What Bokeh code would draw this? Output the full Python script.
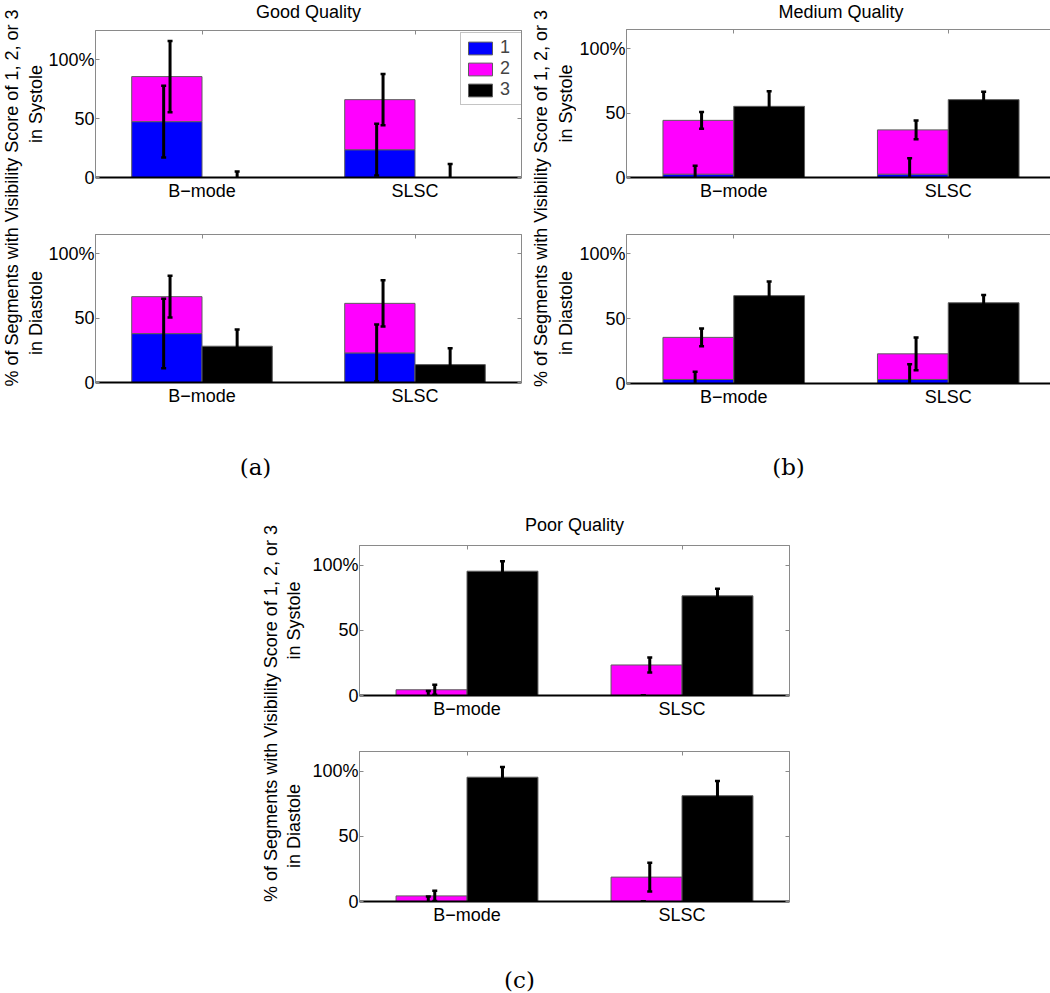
import numpy as np
from bokeh.plotting import figure
from bokeh.models import (ColumnDataSource, FixedTicker, LinearAxis, Range1d,
                          Legend, LegendItem, Spacer, CustomJSTickFormatter)
from bokeh.layouts import row, column
from bokeh.embed import file_html
from bokeh.resources import INLINE
from bokeh.core.properties import value

# ---------------- data (percent of segments) ----------------
categories = ["B−mode", "SLSC"]
score_labels = ["1", "2", "3"]

# Good quality
good_sys_s1 = [47.5, 23.6]
good_sys_s1_err = [30.5, 22.0]
good_sys_s2 = [38.3, 42.6]
good_sys_s2_err = [30.3, 21.8]
good_sys_s3 = [0.0, 0.0]
good_sys_s3_err = [5.0, 11.5]

good_dia_s1 = [38.0, 23.0]
good_dia_s1_err = [27.0, 22.0]
good_dia_s2 = [28.7, 38.5]
good_dia_s2_err = [16.2, 18.0]
good_dia_s3 = [28.2, 13.9]
good_dia_s3_err = [12.9, 12.8]

# Medium quality
med_sys_s1 = [2.6, 2.6]
med_sys_s1_err = [6.5, 12.3]
med_sys_s2 = [41.8, 34.4]
med_sys_s2_err = [6.5, 7.2]
med_sys_s3 = [55.3, 60.5]
med_sys_s3_err = [11.8, 6.1]

med_dia_s1 = [3.1, 3.1]
med_dia_s1_err = [6.0, 11.7]
med_dia_s2 = [32.5, 19.8]
med_dia_s2_err = [6.9, 12.6]
med_dia_s3 = [67.8, 62.3]
med_dia_s3_err = [10.9, 6.0]

# Poor quality
poor_sys_s1 = [0.0, 0.0]
poor_sys_s1_err = [3.5, 0.0]
poor_sys_s2 = [4.4, 23.4]
poor_sys_s2_err = [3.9, 5.7]
poor_sys_s3 = [95.3, 76.4]
poor_sys_s3_err = [7.7, 5.4]

poor_dia_s1 = [0.0, 0.0]
poor_dia_s1_err = [3.9, 0.0]
poor_dia_s2 = [4.3, 18.7]
poor_dia_s2_err = [4.0, 11.0]
poor_dia_s3 = [95.3, 81.1]
poor_dia_s3_err = [7.8, 11.2]

y_ticks = [0, 50, 100]
y_tick_labels = ["0", "50", "100%"]

# ---------------- styling ----------------
FONT = "Liberation Sans"
SERIF = "DejaVu Serif"
FS = "18px"
BLUE = "#0000ff"
MAGENTA = "#ff00ff"
BLACK = "#000000"
EDGE = "#5e5e5e"
FRAME = "#8a8a8a"
BAR_W = 0.33
OFF = 0.165
MBL = 47


def empty_formatter():
    return CustomJSTickFormatter(code="return ''")


def mirror_axis(p, ticker, side):
    ax = LinearAxis(ticker=ticker, formatter=empty_formatter())
    ax.axis_line_color = FRAME
    ax.major_tick_line_color = FRAME
    ax.major_tick_in = 4
    ax.major_tick_out = 0
    ax.major_label_standoff = 0
    ax.major_label_text_font_size = "1px"
    p.add_layout(ax, side)


def make_panel(s1, e1, s2, e2, s3, e3, ymax, fw, fh, mb, legend=False):
    p = figure(frame_width=fw, frame_height=fh,
               x_range=Range1d(0.5, 2.5), y_range=Range1d(0, ymax),
               x_axis_type=None, y_axis_type=None,
               output_backend="svg", toolbar_location=None,
               min_border_left=mb[0], min_border_right=mb[1],
               min_border_top=mb[2], min_border_bottom=mb[3])
    p.outline_line_color = FRAME
    p.outline_line_width = 1
    p.background_fill_color = "white"
    p.border_fill_color = "white"

    xs = np.arange(1, len(categories) + 1, dtype=float)
    s1 = np.array(s1); s2 = np.array(s2); s3 = np.array(s3)
    e1 = np.array(e1); e2 = np.array(e2); e3 = np.array(e3)

    src = ColumnDataSource(dict(
        xstack=xs - OFF, xblack=xs + OFF,
        s1=s1, s12=s1 + s2, s3=s3, zero=np.zeros_like(s1)))
    r1 = p.vbar(x="xstack", width=BAR_W, bottom="zero", top="s1", source=src,
                fill_color=BLUE, line_color=EDGE, line_width=1)
    r2 = p.vbar(x="xstack", width=BAR_W, bottom="s1", top="s12", source=src,
                fill_color=MAGENTA, line_color=EDGE, line_width=1)
    r3 = p.vbar(x="xblack", width=BAR_W, bottom="zero", top="s3", source=src,
                fill_color=BLACK, line_color=EDGE, line_width=1)

    ex = np.concatenate([xs - 0.18, xs - 0.15, xs + OFF])
    ey = np.concatenate([s1, s1 + s2, s3])
    ee = np.concatenate([e1, e2, e3])
    esrc = ColumnDataSource(dict(x=ex, lo=ey - ee, hi=ey + ee))
    p.segment(x0="x", y0="lo", x1="x", y1="hi", source=esrc,
              line_width=3, line_color="black")
    p.scatter(x="x", y="hi", source=esrc, marker="dash", size=5,
              line_width=2.5, line_color="black")
    p.scatter(x="x", y="lo", source=esrc, marker="dash", size=5,
              line_width=2.5, line_color="black")

    xt = FixedTicker(ticks=list(xs), minor_ticks=[])
    yt = FixedTicker(ticks=y_ticks, minor_ticks=[])

    bottom = LinearAxis(ticker=xt,
                        major_label_overrides={float(x): c for x, c in zip(xs, categories)})
    bottom.axis_line_color = "black"
    bottom.axis_line_width = 2
    bottom.major_tick_in = 0
    bottom.major_tick_out = 0
    bottom.major_label_standoff = 3
    bottom.major_label_text_font = FONT
    bottom.major_label_text_font_size = FS
    bottom.major_label_text_color = "black"
    p.add_layout(bottom, "below")

    left = LinearAxis(ticker=yt,
                      major_label_overrides={float(t): l for t, l in zip(y_ticks, y_tick_labels)})
    left.axis_line_color = FRAME
    left.major_tick_line_color = FRAME
    left.major_tick_in = 4
    left.major_tick_out = 0
    left.major_label_standoff = 1
    left.major_label_text_font = FONT
    left.major_label_text_font_size = FS
    left.major_label_text_color = "black"
    p.add_layout(left, "left")

    mirror_axis(p, xt, "above")
    mirror_axis(p, yt, "right")

    if legend:
        lg = Legend(items=[LegendItem(label=score_labels[0], renderers=[r1]),
                           LegendItem(label=score_labels[1], renderers=[r2]),
                           LegendItem(label=score_labels[2], renderers=[r3])],
                    location=(365, 72))
        lg.glyph_width = 30
        lg.glyph_height = 16
        lg.label_height = 19
        lg.label_text_line_height = 1.0
        lg.label_text_font = FONT
        lg.label_text_font_size = FS
        lg.label_standoff = 5
        lg.padding = 4
        lg.spacing = 0
        lg.margin = 0
        lg.border_line_color = FRAME
        lg.background_fill_color = "white"
        lg.background_fill_alpha = 1.0
        p.add_layout(lg)
    return p


def blank_fig(w, h, left=0, right=0):
    p = figure(frame_width=w, frame_height=h, x_range=Range1d(0, w), y_range=Range1d(0, h),
               x_axis_type=None, y_axis_type=None, output_backend="svg",
               toolbar_location=None, min_border_left=left, min_border_right=right,
               min_border_top=0, min_border_bottom=0)
    p.outline_line_color = None
    return p


def label_fig(w, h, xs, ys_from_top, texts):
    p = blank_fig(w, h)
    src = ColumnDataSource(dict(x=xs, y=[h - v for v in ys_from_top], t=texts))
    p.text(x="x", y="y", text="t", source=src, angle=np.pi / 2,
           text_align="center", text_baseline="middle",
           text_font=value(FONT), text_font_size=FS, text_color="black")
    return p


def header_fig(fw, h, mbr, cy_from_top, txt):
    # same left/right borders as the panel below, so the title centres on its frame
    p = blank_fig(fw, h, left=MBL, right=mbr)
    p.text(x=[fw / 2], y=[h - cy_from_top], text=[txt], text_align="center",
           text_baseline="middle", text_font=value(FONT), text_font_size=FS,
           text_color="black")
    return p


def caption_fig(w, h, cx, cy_from_top, txt):
    p = blank_fig(w, h)
    p.text(x=[cx], y=[h - cy_from_top], text=[txt], text_align="center",
           text_baseline="middle", text_font=value(SERIF), text_font_size="23px",
           text_color="black")
    return p


LINE1 = "% of Segments with Visibility Score of 1, 2, or 3"

# ---------------- group (a) ----------------
headA = header_fig(426, 22, 7, 11.5, "Good Quality")
sysA = make_panel(good_sys_s1, good_sys_s1_err, good_sys_s2, good_sys_s2_err,
                  good_sys_s3, good_sys_s3_err, 125, 426, 147, (MBL, 7, 8, 38), legend=True)
diaA = make_panel(good_dia_s1, good_dia_s1_err, good_dia_s2, good_dia_s2_err,
                  good_dia_s3, good_dia_s3_err, 115, 426, 148, (MBL, 7, 19, 28))
labA = label_fig(45, 410, [11, 35, 35], [197.5, 103.5, 312.5],
                 [LINE1, "in Systole", "in Diastole"])
capA = caption_fig(525, 90, 255, 56, "(a)")
groupA = column(row(labA, column(headA, sysA, diaA)), capA)

# ---------------- group (b) ----------------
headB = header_fig(429, 22, 1, 11, "Medium Quality")
sysB = make_panel(med_sys_s1, med_sys_s1_err, med_sys_s2, med_sys_s2_err,
                  med_sys_s3, med_sys_s3_err, 115, 429, 148, (MBL, 1, 7, 38))
diaB = make_panel(med_dia_s1, med_dia_s1_err, med_dia_s2, med_dia_s2_err,
                  med_dia_s3, med_dia_s3_err, 115, 429, 149, (MBL, 1, 19, 27))
labB = label_fig(48, 410, [12, 37, 37], [198, 103, 312.5],
                 [LINE1, "in Systole", "in Diastole"])
capB = caption_fig(525, 90, 260, 56, "(b)")
groupB = column(row(labB, column(headB, sysB, diaB)), capB)

# ---------------- group (c) ----------------
headC = header_fig(430, 37, 10, 24, "Poor Quality")
sysC = make_panel(poor_sys_s1, poor_sys_s1_err, poor_sys_s2, poor_sys_s2_err,
                  poor_sys_s3, poor_sys_s3_err, 115, 430, 150, (MBL, 10, 8, 36))
diaC = make_panel(poor_dia_s1, poor_dia_s1_err, poor_dia_s2, poor_dia_s2_err,
                  poor_dia_s3, poor_dia_s3_err, 115, 430, 150, (MBL, 10, 20, 29))
labC = label_fig(54, 430, [15.5, 38, 38], [213, 120, 325.6],
                 [LINE1, "in Systole", "in Diastole"])
capC = caption_fig(541, 63, 264, 49, "(c)")
groupC = column(row(labC, column(headC, sysC, diaC)), capC)

root = column(row(groupA, groupB),
              row(Spacer(width=255, height=493), groupC))

open("out.html", "w").write(file_html(root, INLINE))
